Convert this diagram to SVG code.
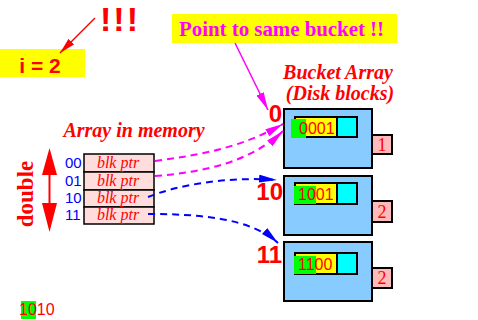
<svg xmlns="http://www.w3.org/2000/svg" width="478" height="320" viewBox="0 0 478 320">
<defs>
<style>
.sans{font-family:"Liberation Sans",Arial,sans-serif}
.serif{font-family:"Liberation Serif","Times New Roman",serif}
.red{fill:#ff0000}
.bucket{fill:#88ccff;stroke:#000;stroke-width:2}
.yel{fill:#ffff00;stroke:#000;stroke-width:2}
.cyan{fill:#00ffff;stroke:#000;stroke-width:2}
.grn{fill:#00ff00}
.cnt{fill:#ffbbbb;stroke:#000;stroke-width:2}
.row{fill:#ffdddd;stroke:#000;stroke-width:1.5}
.rec{font-size:16px}
.cell{font-size:16px;font-style:italic}
.idx{font-size:15px;fill:#0000ff}
.lbl{font-size:24px;font-weight:bold;fill:#ff0000}
.dm{fill:none;stroke:#ff00ff;stroke-width:2;stroke-dasharray:7 5}
.db{fill:none;stroke:#0000ff;stroke-width:2;stroke-dasharray:7 5}
</style>
<marker id="hm" viewBox="0 0 18 8" refX="18" refY="4" markerWidth="18" markerHeight="8" markerUnits="userSpaceOnUse" orient="auto"><path d="M0,0 L18,4 L0,8 Z" fill="#ff00ff"/></marker>
<marker id="hb" viewBox="0 0 18 8" refX="18" refY="4" markerWidth="18" markerHeight="8" markerUnits="userSpaceOnUse" orient="auto"><path d="M0,0 L18,4 L0,8 Z" fill="#0000ff"/></marker>
<marker id="hr" viewBox="0 0 16 8" refX="16" refY="4" markerWidth="16" markerHeight="8" markerUnits="userSpaceOnUse" orient="auto"><path d="M0,0 L16,4 L0,8 Z" fill="#ff0000"/></marker>
</defs>

<g id="exclaim">
<text x="100" y="31" class="sans red" font-size="34" font-weight="bold" letter-spacing="2">!!!</text>
</g>
<g id="i-label">
<rect x="0" y="49" width="85" height="28" fill="#ffff00"/>
<text x="40" y="73" class="sans red" font-size="21" font-weight="bold" text-anchor="middle">i = 2</text>
</g>
<g id="callout">
<rect x="172" y="14" width="225" height="29" fill="#ffff00"/>
<text x="179" y="36" class="serif" font-size="20" font-weight="bold" fill="#ff00ff" textLength="205" lengthAdjust="spacingAndGlyphs">Point to same bucket !!</text>
</g>
<g id="bucket-title" class="serif red" font-size="20" font-weight="bold" font-style="italic">
<text x="338" y="79" text-anchor="middle">Bucket Array</text>
<text x="340" y="100" text-anchor="middle">(Disk blocks)</text>
</g>
<g id="array-title">
<text x="134" y="137" class="serif red" font-size="20" font-weight="bold" font-style="italic" text-anchor="middle">Array in memory</text>
</g>

<g id="double">
<text transform="translate(33,194) rotate(-90)" class="serif red" font-size="23" font-weight="bold" text-anchor="middle">double</text>
<line x1="49.5" y1="170" x2="49.5" y2="208" stroke="#ff0000" stroke-width="2"/>
<path d="M49.5,148 L57,175 L42,175 Z" fill="#ff0000"/>
<path d="M49.5,232 L57,203 L42,203 Z" fill="#ff0000"/>
</g>

<g id="dir-table">
<rect x="84" y="154" width="70" height="18" class="row"/>
<rect x="84" y="172" width="70" height="18" class="row"/>
<rect x="84" y="190" width="70" height="17" class="row"/>
<rect x="84" y="207" width="70" height="17" class="row"/>
<g class="serif red cell" text-anchor="middle">
<text x="118" y="168">blk ptr</text>
<text x="118" y="186">blk ptr</text>
<text x="118" y="203">blk ptr</text>
<text x="118" y="220">blk ptr</text>
</g>
<g class="sans idx">
<text x="65" y="168">00</text>
<text x="65" y="186">01</text>
<text x="65" y="203">10</text>
<text x="65" y="220">11</text>
</g>
</g>

<g id="bucket0">
<rect x="284" y="109" width="88" height="59" class="bucket"/>
<rect x="295" y="117" width="42" height="20" class="yel"/>
<rect x="337" y="117" width="20" height="20" class="cyan"/>
<rect x="291" y="119" width="15" height="19" class="grn"/>
<text x="299" y="134" class="sans red rec">0001</text>
<rect x="372" y="135" width="20" height="19" class="cnt"/>
<text x="382" y="151" class="serif red" font-size="18" text-anchor="middle">1</text>
<text x="282" y="122" class="sans lbl" text-anchor="end">0</text>
</g>
<g id="bucket10">
<rect x="284" y="176" width="88" height="59" class="bucket"/>
<rect x="295" y="183" width="42" height="21" class="yel"/>
<rect x="337" y="183" width="20" height="21" class="cyan"/>
<rect x="294" y="186" width="22" height="18" class="grn"/>
<text x="298" y="200" class="sans red rec">1001</text>
<rect x="372" y="201" width="20" height="21" class="cnt"/>
<text x="382" y="218" class="serif red" font-size="18" text-anchor="middle">2</text>
<text x="283" y="200" class="sans lbl" text-anchor="end">10</text>
</g>
<g id="bucket11">
<rect x="284" y="242" width="88" height="59" class="bucket"/>
<rect x="295" y="253" width="42" height="21" class="yel"/>
<rect x="337" y="253" width="20" height="21" class="cyan"/>
<rect x="294" y="256" width="22" height="18" class="grn"/>
<text x="298" y="270" class="sans red rec">1100</text>
<rect x="372" y="268" width="20" height="20" class="cnt"/>
<text x="382" y="284" class="serif red" font-size="18" text-anchor="middle">2</text>
<text x="282" y="263" class="sans lbl" text-anchor="end">11</text>
</g>

<g id="hash-value">
<rect x="21" y="301" width="15" height="18" class="grn"/>
<text x="19" y="315" class="sans red" font-size="16">1010</text>
</g>

<g id="connectors">
<line x1="95" y1="18" x2="60" y2="53" stroke="#ff0000" stroke-width="1.5" marker-end="url(#hr)"/>
<line x1="235" y1="43" x2="268" y2="110" stroke="#ff00ff" stroke-width="1.5" marker-end="url(#hm)"/>
<path d="M155,161 C200,155 240,148 283,124" class="dm" marker-end="url(#hm)"/>
<path d="M155,176 C205,172 250,162 283,131" class="dm" marker-end="url(#hm)"/>
<path d="M148,197 C175,186 225,176 277,180" class="db" marker-end="url(#hb)"/>
<path d="M148,214 C200,214 250,218 278,243" class="db" marker-end="url(#hb)"/>
</g>
</svg>
